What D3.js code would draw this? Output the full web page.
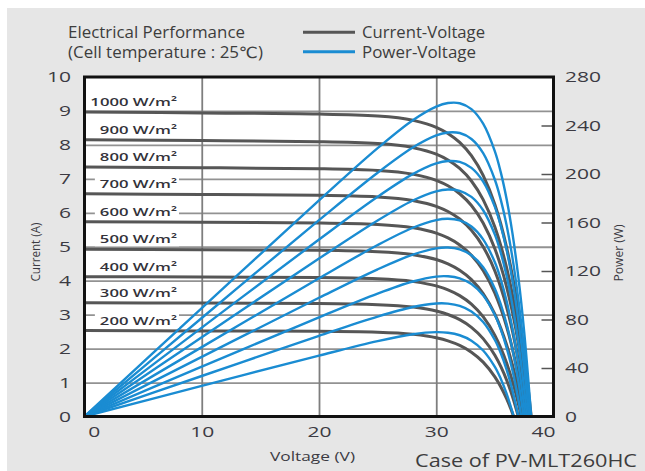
<!DOCTYPE html>
<html>
<head>
<meta charset="utf-8">
<script src="https://cdn.jsdelivr.net/npm/d3@7"></script>
<style>
  html, body { margin: 0; padding: 0; background: #fff; }
  svg { display: block; font-family: "Open Sans", "DejaVu Sans", sans-serif; }
</style>
</head>
<body>
<svg id="chart" width="645" height="471"></svg>
<script>
// Irradiance levels (W/m²), one I-V / P-V pair per level
const irradiance = [200, 300, 400, 500, 600, 700, 800, 900, 1000];

// Voltage sample points (V) shared by all current series
const voltageGrid = [0, 10, 20, 25, 28, 30, 31, 32, 33, 34, 35, 35.5, 36, 36.5, 37, 37.5];

// Open-circuit voltage (V) per irradiance level
const openCircuitVoltage = [36.6, 37.0, 37.25, 37.45, 37.6, 37.75, 37.9, 38.0, 38.1];

// Current (A) at each voltage sample; null past open-circuit voltage
const current200  = [2.53, 2.522, 2.511, 2.485, 2.423, 2.319, 2.228, 2.094, 1.895, 1.602, 1.168, 0.878, 0.525, 0.097, null, null];
const current300  = [3.35, 3.340, 3.326, 3.295, 3.225, 3.107, 3.004, 2.852, 2.627, 2.294, 1.802, 1.474, 1.075, 0.590, null, null];
const current400  = [4.12, 4.108, 4.091, 4.056, 3.977, 3.846, 3.730, 3.561, 3.310, 2.939, 2.390, 2.025, 1.579, 1.038, 0.380, null];
const current500  = [4.93, 4.915, 4.895, 4.856, 4.769, 4.623, 4.496, 4.307, 4.030, 3.619, 3.013, 2.608, 2.116, 1.517, 0.788, null];
const current600  = [5.74, 5.723, 5.700, 5.656, 5.560, 5.400, 5.260, 5.053, 4.749, 4.298, 3.633, 3.187, 2.647, 1.990, 1.190, 0.217];
const current700  = [6.56, 6.540, 6.515, 6.467, 6.363, 6.191, 6.039, 5.817, 5.488, 5.003, 4.285, 3.805, 3.223, 2.514, 1.652, 0.604];
const current800  = [7.35, 7.328, 7.299, 7.249, 7.138, 6.956, 6.796, 6.561, 6.214, 5.700, 4.941, 4.436, 3.820, 3.072, 2.161, 1.055];
const current900  = [8.15, 8.126, 8.095, 8.040, 7.922, 7.727, 7.557, 7.306, 6.936, 6.388, 5.579, 5.039, 4.383, 3.585, 2.615, 1.434];
const current1000 = [8.97, 8.943, 8.909, 8.851, 8.726, 8.519, 8.339, 8.073, 7.681, 7.102, 6.247, 5.677, 4.981, 4.137, 3.110, 1.861];

// Axis ticks
const currentTicks = [0, 1, 2, 3, 4, 5, 6, 7, 8, 9, 10];
const powerTicks = [0, 40, 80, 120, 160, 200, 240, 280];
const voltageTicks = [0, 10, 20, 30, 40];

const currentSeries = [current200, current300, current400, current500, current600,
                       current700, current800, current900, current1000];

// Build point lists: I-V ends at (Voc, 0); power is V × I
const series = irradiance.map((g, k) => {
  const iv = [];
  voltageGrid.forEach((v, i) => {
    const c = currentSeries[k][i];
    if (c !== null) iv.push({ v: v, i: c });
  });
  iv.push({ v: openCircuitVoltage[k], i: 0 });
  const pv = iv.map(p => ({ v: p.v, p: p.v * p.i }));
  return { g: g, iv: iv, pv: pv, isc: currentSeries[k][0] };
});

const W = 645, H = 471;
const svg = d3.select("#chart");
const textColor = "#3b3a42";
const tickStretch = 1.45;

// Page background and grey panel
svg.append("rect").attr("width", W).attr("height", H).attr("fill", "#fff");
svg.append("rect").attr("x", 7).attr("y", 8).attr("width", W - 7).attr("height", H - 8).attr("fill", "#e6e6e6");

const plot = { left: 84.5, right: 553.5, top: 77, bottom: 416.5 };
const x = d3.scaleLinear().domain([0, 40]).range([plot.left, plot.right]);
const yI = d3.scaleLinear().domain([0, 10]).range([plot.bottom, plot.top]);
const yP = d3.scaleLinear().domain([0, 280]).range([plot.bottom, plot.top]);

// Plot area
svg.append("rect")
  .attr("x", plot.left).attr("y", plot.top)
  .attr("width", plot.right - plot.left).attr("height", plot.bottom - plot.top)
  .attr("fill", "#fff");

// Horizontal grid (every 1 A)
const gridH = svg.append("g")
  .attr("transform", `translate(${plot.left},0)`)
  .call(d3.axisLeft(yI).tickValues(currentTicks.slice(1, -1)).tickSize(-(plot.right - plot.left)).tickFormat(""));
gridH.select(".domain").remove();
gridH.selectAll("line").attr("stroke", "#929292").attr("stroke-width", 1.8);

// Vertical grid (every 10 V)
const gridV = svg.append("g")
  .attr("transform", `translate(0,${plot.bottom})`)
  .call(d3.axisBottom(x).tickValues(voltageTicks.slice(1, -1)).tickSize(-(plot.bottom - plot.top)).tickFormat(""));
gridV.select(".domain").remove();
gridV.selectAll("line").attr("stroke", "#7e7e7e").attr("stroke-width", 1.8);

// Inner tick marks on the power axis
const pTicks = svg.append("g")
  .attr("transform", `translate(${plot.right},0)`)
  .call(d3.axisRight(yP).tickValues(powerTicks.slice(1, -1)).tickSize(-12).tickFormat(""));
pTicks.select(".domain").remove();
pTicks.selectAll("line").attr("stroke", "#555").attr("stroke-width", 1.5);

// Curves
const ivLine = d3.line().x(d => x(d.v)).y(d => yI(d.i)).curve(d3.curveMonotoneX);
const pvLine = d3.line().x(d => x(d.v)).y(d => yP(d.p)).curve(d3.curveCatmullRom.alpha(0.5));

svg.append("clipPath").attr("id", "plotClip")
  .append("rect").attr("x", plot.left).attr("y", plot.top)
  .attr("width", plot.right - plot.left).attr("height", plot.bottom - plot.top);

const curves = svg.append("g").attr("clip-path", "url(#plotClip)");
curves.selectAll("path.iv").data(series).join("path")
  .attr("class", "iv")
  .attr("d", d => ivLine(d.iv))
  .attr("fill", "none").attr("stroke", "#565656").attr("stroke-width", 3);
curves.selectAll("path.pv").data(series).join("path")
  .attr("class", "pv")
  .attr("d", d => pvLine(d.pv))
  .attr("fill", "none").attr("stroke", "#1a8cd2").attr("stroke-width", 2.4);

// Irradiance labels on white boxes
const labelRight = 177;
const labels = svg.append("g");
series.forEach(s => {
  const cy = yI(s.isc + 0.29);
  const grp = labels.append("g");
  const t = grp.append("text")
    .attr("transform", `translate(${labelRight},${cy + 4}) scale(${tickStretch},1)`)
    .attr("text-anchor", "end")
    .attr("font-size", 11.5)
    .attr("font-weight", 600)
    .attr("fill", "#33323a")
    .text(`${s.g} W/m²`);
  const w = t.node().getComputedTextLength() * tickStretch;
  grp.insert("rect", "text")
    .attr("x", labelRight - w - 5).attr("y", cy - 7)
    .attr("width", w + 7).attr("height", 14)
    .attr("fill", "#fff");
});

// Plot frame
svg.append("rect")
  .attr("x", plot.left).attr("y", plot.top)
  .attr("width", plot.right - plot.left).attr("height", plot.bottom - plot.top)
  .attr("fill", "none").attr("stroke", "#111").attr("stroke-width", 3);

// Tick labels
function styleTicks(g) {
  g.select(".domain").remove();
  g.selectAll("line").remove();
  g.selectAll("text")
    .attr("font-size", 14.5)
    .attr("fill", textColor)
    .attr("font-family", "'Open Sans', sans-serif");
}

const leftAxis = svg.append("g")
  .attr("transform", "translate(71,0)")
  .call(d3.axisLeft(yI).tickValues(currentTicks).tickSize(0).tickPadding(0).tickFormat(d3.format("d")));
styleTicks(leftAxis);
leftAxis.selectAll("text").attr("transform", `scale(${tickStretch},1)`);

const rightAxis = svg.append("g")
  .attr("transform", "translate(565,0)")
  .call(d3.axisRight(yP).tickValues(powerTicks).tickSize(0).tickPadding(0).tickFormat(d3.format("d")));
styleTicks(rightAxis);
rightAxis.selectAll("text").attr("transform", `scale(${tickStretch},1)`);

const bottomAxis = svg.append("g")
  .attr("transform", "translate(0,437)")
  .call(d3.axisBottom(x).tickValues(voltageTicks).tickSize(0).tickPadding(0).tickFormat(d3.format("d")));
styleTicks(bottomAxis);
bottomAxis.selectAll("text")
  .attr("y", 0).attr("dy", 0)
  .attr("text-anchor", d => d === 0 ? "start" : d === 40 ? "end" : "middle")
  .attr("x", d => (d === 0 ? 3.2 : d === 40 ? 1.5 : 0) / tickStretch)
  .attr("transform", `scale(${tickStretch},1)`);

// Fixed-width text helper
function fitText(str, x0, y0, width, size, opts = {}) {
  const t = svg.append("text")
    .attr("x", x0).attr("y", y0)
    .attr("font-size", size)
    .attr("fill", opts.fill || textColor)
    .attr("textLength", width)
    .attr("lengthAdjust", "spacingAndGlyphs")
    .text(str);
  if (opts.anchor) t.attr("text-anchor", opts.anchor);
  if (opts.transform) t.attr("transform", opts.transform);
  return t;
}

// Title
fitText("Electrical Performance", 68, 38, 177, 15.5, { fill: "#3d3d3d" });
fitText("(Cell temperature : 25℃)", 68, 58, 195, 15.5, { fill: "#3d3d3d" });

// Legend
svg.append("line").attr("x1", 303).attr("x2", 355).attr("y1", 32.3).attr("y2", 32.3)
  .attr("stroke", "#565656").attr("stroke-width", 3);
svg.append("line").attr("x1", 303).attr("x2", 355).attr("y1", 51.8).attr("y2", 51.8)
  .attr("stroke", "#1a8cd2").attr("stroke-width", 3);
fitText("Current-Voltage", 362, 38, 123, 15.5, { fill: "#3d3d3d" });
fitText("Power-Voltage", 362, 58, 114, 15.5, { fill: "#3d3d3d" });

// Axis titles
fitText("Current (A)", 0, 0, 59, 13, { anchor: "middle", transform: "translate(40,252) rotate(-90)" });
fitText("Power (W)", 0, 0, 57, 13, { anchor: "middle", transform: "translate(623,253) rotate(-90)" });
fitText("Voltage (V)", 270, 461, 85, 13);
fitText("Case of PV-MLT260HC", 415, 466.5, 222, 17.5, { fill: "#3d3d3d" });
</script>
</body>
</html>
